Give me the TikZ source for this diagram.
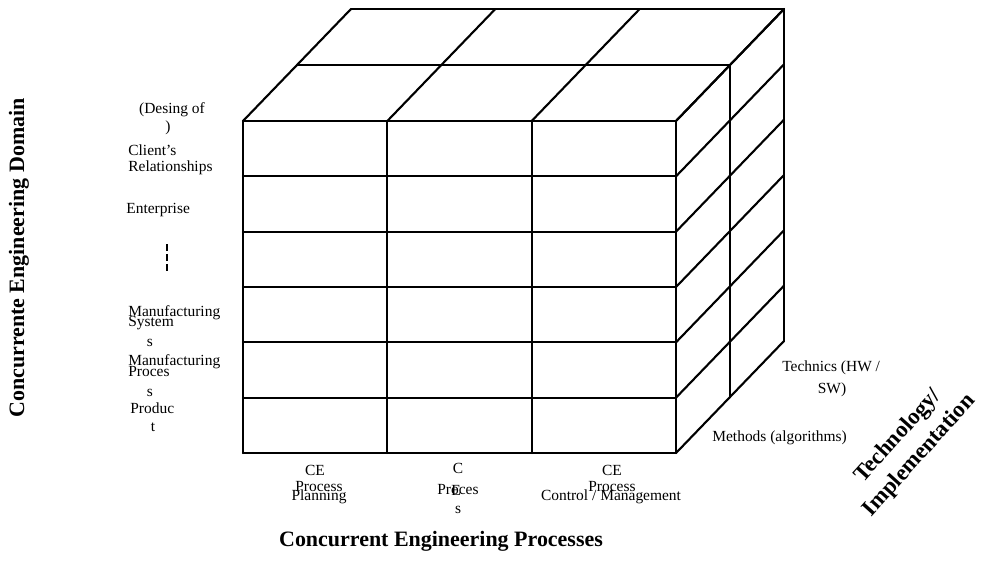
\documentclass[tikz,border=0pt]{standalone}
\usepackage{fontspec}
\setmainfont{Liberation Serif}
\usepackage{tikz}
\usetikzlibrary{positioning, calc}

\begin{document}
\begin{tikzpicture}[%
  x=0.02cm, y=-0.02cm,
  every node/.style={align=center, inner sep=0pt},
  edge/.style={line width=1.2pt, line cap=round},
  lbl/.style={font=\fontsize{8.8}{10}\selectfont},
  ttl/.style={font=\fontsize{12.5}{14}\selectfont\bfseries},
  axis/.style={font=\fontsize{13}{16.5}\selectfont\bfseries}
]
\useasboundingbox (0,0) rectangle (982,577);

% Front face corners
\coordinate (ftl) at (243,121);
\coordinate (ftr) at (676,121);
\coordinate (fbl) at (243,453);
\coordinate (fbr) at (676,453);

% Front face grid
\foreach \i in {0,1,2,3}
  \draw[edge] ($(ftl)!\i/3!(ftr)$) -- ($(fbl)!\i/3!(fbr)$);
\foreach \k in {0,...,6}
  \draw[edge] ($(ftl)!\k/6!(fbl)$) -- ($(ftr)!\k/6!(fbr)$);

% Top face
\foreach \i in {0,1,2,3}
  \draw[edge] ($(ftl)!\i/3!(ftr)$) -- ++(108,-112);
\foreach \j in {1,2}
  \draw[edge] ($(ftl)+(54*\j,-56*\j)$) -- ($(ftr)+(54*\j,-56*\j)$);

% Right face
\foreach \k in {0,...,6}
  \draw[edge] ($(ftr)!\k/6!(fbr)$) -- ++(108,-112);
\foreach \j in {1,2}
  \draw[edge] ($(ftr)+(54*\j,-56*\j)$) -- ($(fbr)+(54*\j,-56*\j)$);

% Domain labels
\node[lbl] (desing) at (172,110) {(Desing of};
\node[lbl] (paren) at (168,128) {)};
\node[lbl, anchor=west] (client) at (128,150) {Client's};
\node[lbl, anchor=west] (relat) at (128,168) {Relationships};
\node[lbl, anchor=west] (enter) at (126,210) {Enterprise};
\coordinate (dtop) at (167,244);
\coordinate (dbot) at (167,272);
\draw[line width=1.3pt, dash pattern=on 3.8pt off 2pt] (dtop) -- (dbot);
\node[lbl, anchor=west] (mansys) at (128,313) {Manufacturing};
\node[lbl, anchor=west] (system) at (128,323) {System};
\node[lbl] (sysS) at (150,343) {s};
\node[lbl, anchor=west] (manpro) at (128,362) {Manufacturing};
\node[lbl, anchor=west] (proces) at (128,372) {Proces};
\node[lbl] (proS) at (150,393) {s};
\node[lbl, anchor=west] (produc) at (130,408) {Produc};
\node[lbl] (prodT) at (153,427) {t};

% Process labels
\node[lbl] (ce1) at (315,470) {CE};
\node[lbl] (proc1) at (319,487) {Process};
\node[lbl] (plan) at (319,497) {Planning};
\node[lbl] (ce2) at (458,468) {C};
\node[lbl] (proc2) at (458,490) {Proces};
\node[lbl] (ce2e) at (456,490) {E};
\node[lbl] (proc2s) at (458,510) {s};
\node[lbl] (ce3) at (612,470) {CE};
\node[lbl] (proc3) at (612,487) {Process};
\node[lbl] (ctrl) at (611,497) {Control / Management};

% Technology labels
\node[lbl, anchor=west] (technics) at (782,368) {Technics (HW /};
\node[lbl] (sw) at (832,390) {SW)};
\node[lbl, anchor=west] (methods) at (712,438) {Methods (algorithms)};

% Axis titles
\node[ttl, rotate=90] (domain) at (19,258) {Concurrente Engineering Domain};
\node[ttl] (processes) at (441,541) {Concurrent Engineering Processes};
\node[axis, rotate=48] (techimpl) at (909,446) {Technology/\\Implementation};
\end{tikzpicture}
\end{document}
